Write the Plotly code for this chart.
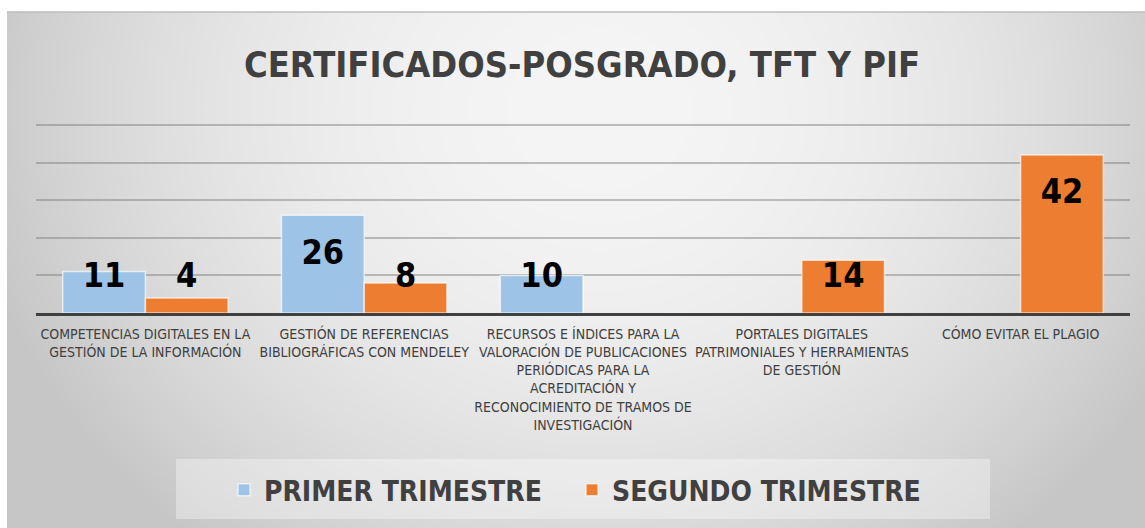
import base64, struct, zlib
import numpy as np
import plotly.graph_objects as go

# ---------------- data ----------------
categories = [
    "COMPETENCIAS DIGITALES EN LA<br>GESTIÓN DE LA INFORMACIÓN",
    "GESTIÓN DE REFERENCIAS<br>BIBLIOGRÁFICAS CON MENDELEY",
    "RECURSOS E ÍNDICES PARA LA<br>VALORACIÓN DE PUBLICACIONES<br>PERIÓDICAS PARA LA<br>ACREDITACIÓN Y<br>RECONOCIMIENTO DE TRAMOS DE<br>INVESTIGACIÓN",
    "PORTALES DIGITALES<br>PATRIMONIALES Y HERRAMIENTAS<br>DE GESTIÓN",
    "CÓMO EVITAR EL PLAGIO",
]
primer_trimestre = [11, 26, 10, None, None]
segundo_trimestre = [4, 8, None, 14, 42]
series_names = ["PRIMER TRIMESTRE", "SEGUNDO TRIMESTRE"]
title_text = "CERTIFICADOS-POSGRADO, TFT Y PIF"
y_max = 50
y_grid = [10, 20, 30, 40, 50]

# ---------------- layout geometry (pixels) ----------------
W, H = 1145, 528
ML, MR, MT, MB = 36, 15, 123, 215
PW, PH = W - ML - MR, H - MT - MB
Y_TOP = y_max + 0.5  # small headroom so the top gridline is drawn


def px_x(px):
    return (px - ML) / PW


def px_y(py):
    return (H - MB - py) / PH


# ---------------- background gradient image ----------------
def png_data_uri(arr):
    h, w, _ = arr.shape
    raw = b"".join(b"\x00" + arr[r].tobytes() for r in range(h))

    def chunk(tag, data):
        c = struct.pack(">I", len(data)) + tag + data
        return c + struct.pack(">I", zlib.crc32(tag + data) & 0xFFFFFFFF)

    png = b"\x89PNG\r\n\x1a\n"
    png += chunk(b"IHDR", struct.pack(">IIBBBBB", w, h, 8, 2, 0, 0, 0))
    png += chunk(b"IDAT", zlib.compress(raw, 9))
    png += chunk(b"IEND", b"")
    return "data:image/png;base64," + base64.b64encode(png).decode()


BX0, BY0, BX1, BY1 = 7, 12, W, H
gw, gh = (BX1 - BX0) // 2, (BY1 - BY0) // 2
xs = BX0 + (np.arange(gw) + 0.5) * 2
ys = BY0 + (np.arange(gh) + 0.5) * 2
XX, YY = np.meshgrid(xs, ys)
t2 = ((XX - 600) / 640) ** 2 + ((YY - 110) / 560) ** 2
light, dark = 245.0, 198.0
val = light - (light - dark) * np.clip(t2, 0, 1)
img = np.repeat(np.clip(val, 0, 255).astype(np.uint8)[:, :, None], 3, axis=2)
bg_uri = png_data_uri(np.ascontiguousarray(img))

FONT = "DejaVu Sans Condensed, Liberation Sans Narrow, Arial Narrow, sans-serif"
TXT = "#404040"
BLUE = "#9DC3E6"
ORANGE = "#ED7D31"
BAR_W = 0.378

x_idx = list(range(len(categories)))

fig = go.Figure()
fig.add_trace(go.Bar(
    x=x_idx, y=primer_trimestre, name=series_names[0],
    width=BAR_W, offset=-BAR_W,
    marker=dict(color=BLUE, line=dict(color="rgba(255,255,255,0.65)", width=1.5)),
    hoverinfo="skip",
))
fig.add_trace(go.Bar(
    x=x_idx, y=segundo_trimestre, name=series_names[1],
    width=BAR_W, offset=0,
    marker=dict(color=ORANGE, line=dict(color="rgba(255,255,255,0.65)", width=1.5)),
    hoverinfo="skip",
))


def label_y(v):
    if v is None:
        return None
    return max(v - 10.6, 9.2)


for vals, shift in ((primer_trimestre, -BAR_W / 2), (segundo_trimestre, BAR_W / 2)):
    fig.add_trace(go.Scatter(
        x=[i + shift for i in x_idx],
        y=[label_y(v) for v in vals],
        text=[("" if v is None else str(v)) for v in vals],
        mode="text",
        textposition="middle center",
        textfont=dict(family=FONT, size=34, color="#000000", weight="bold"),
        showlegend=False, hoverinfo="skip", cliponaxis=False,
    ))

shapes = [
    # top border of chart area
    dict(type="line", xref="paper", yref="paper",
         x0=px_x(BX0), x1=px_x(BX1), y0=px_y(BY0), y1=px_y(BY0),
         line=dict(color="#bdbdbd", width=1.5), layer="below"),
    # legend box
    dict(type="rect", xref="paper", yref="paper",
         x0=px_x(176), x1=px_x(990), y0=px_y(459), y1=px_y(519),
         fillcolor="rgba(255,255,255,0.35)", line=dict(width=0), layer="below"),
]

fig.update_layout(
    width=W, height=H,
    margin=dict(l=ML, r=MR, t=MT, b=MB, pad=0),
    paper_bgcolor="#ffffff",
    plot_bgcolor="rgba(0,0,0,0)",
    barmode="overlay",
    title=dict(
        text=title_text, x=(582 / W), xanchor="center",
        y=1 - 64 / H, yanchor="middle", yref="container",
        font=dict(family=FONT, size=36, color=TXT, weight="bold"),
    ),
    xaxis=dict(
        range=[-0.5, len(categories) - 0.5],
        tickmode="array", tickvals=x_idx, ticktext=categories,
        tickfont=dict(family=FONT, size=14, color=TXT),
        ticks="", showgrid=False, zeroline=False,
        showline=True, linecolor="#404040", linewidth=3,
        tickangle=0, fixedrange=True, ticklabelstandoff=6,
    ),
    yaxis=dict(
        range=[0, Y_TOP], tickmode="array", tickvals=y_grid,
        showticklabels=False, ticks="",
        showgrid=True, gridcolor="rgba(120,120,120,0.45)", gridwidth=1.5,
        zeroline=False, showline=False, fixedrange=True,
    ),
    legend=dict(
        orientation="h", x=px_x(572), xanchor="center",
        y=px_y(490), yanchor="middle",
        font=dict(family=FONT, size=28, color=TXT, weight="bold"),
        entrywidth=303, entrywidthmode="pixels",
        bgcolor="rgba(0,0,0,0)", itemclick=False, itemdoubleclick=False,
    ),
    images=[dict(
        source=bg_uri, xref="paper", yref="paper",
        x=px_x(BX0), y=px_y(BY0), sizex=(BX1 - BX0) / PW, sizey=(BY1 - BY0) / PH,
        xanchor="left", yanchor="top", sizing="stretch", layer="below",
    )],
    shapes=shapes,
    showlegend=True,
)

fig.write_html(
    "out.html",
    config={"displayModeBar": False},
    post_script="document.body.style.margin='0';document.body.style.overflow='hidden';",
)
